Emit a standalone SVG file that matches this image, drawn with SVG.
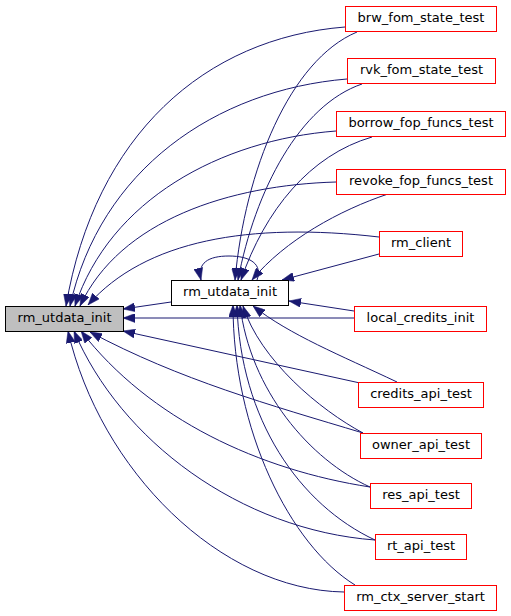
<svg xmlns="http://www.w3.org/2000/svg" width="511" height="616" viewBox="0 0 511 616">
<style>
.n rect{fill:#ffffff;stroke:#ff0000;stroke-width:1}
.n text{font-family:"DejaVu Sans","Liberation Sans",sans-serif;font-size:13px;fill:#000000;text-anchor:middle}
#n_root rect{fill:#bfbfbf;stroke:#000000}
#n_mid rect{stroke:#000000}
.e path{fill:none;stroke:#191970;stroke-width:1;marker-end:url(#ah)}
</style>
<defs>
<marker id="ah" markerUnits="userSpaceOnUse" markerWidth="12" markerHeight="9" refX="12" refY="4.5" orient="auto" viewBox="0 0 12 9">
<path d="M0,0 L12,4.5 L0,9 z" fill="#191970" stroke="#191970" stroke-width="0.5"/>
</marker>
</defs>
<rect width="511" height="616" fill="#ffffff"/>
<g id="connectors" class="e">
<path d="M345,27 C205,38 95,135 66,306"/>
<path d="M347,79 C215,90 100,170 70,306"/>
<path d="M336,131 C220,140 110,200 75,306"/>
<path d="M336,182 C230,185 120,220 80,306"/>
<path d="M379,237 C250,222 145,240 88,305"/>
<path d="M171,302 L123,309"/>
<path d="M354,318 L123,318"/>
<path d="M360,383 L123,331"/>
<path d="M344,592 C220,590 100,470 68,331"/>
<path d="M375,540 C240,530 120,440 74,331"/>
<path d="M370,487 C260,470 150,420 81,331"/>
<path d="M363,433 C270,405 180,380 90,332"/>
<path d="M357,32 C290,60 245,170 235,280"/>
<path d="M362,84 C300,105 255,190 238,280"/>
<path d="M372,137 C310,155 265,210 241,280"/>
<path d="M388,194 C340,210 285,240 252,280"/>
<path d="M379,254 L282,280"/>
<path d="M257,280 C263,264 250,256 229,256 C208,256 197,263 201,280"/>
<path d="M354,311 L289,301"/>
<path d="M397,382 C340,355 290,335 253,306"/>
<path d="M363,433 C320,410 260,360 243,306"/>
<path d="M370,487 C310,460 250,390 240,305"/>
<path d="M375,540 C300,505 240,420 237,305"/>
<path d="M355,585 C290,545 233,430 233,305"/>
</g>
<g id="n_root" class="n"><rect x="5.5" y="306.5" width="118" height="25"/><text x="64.5" y="322">rm_utdata_init</text></g>
<g id="n_mid" class="n"><rect x="171.5" y="280.5" width="117" height="25"/><text x="230" y="296">rm_utdata_init</text></g>
<g id="n_brw" class="n"><rect x="345.5" y="6.5" width="151" height="25"/><text x="421" y="22">brw_fom_state_test</text></g>
<g id="n_rvk" class="n"><rect x="347.5" y="58.5" width="148" height="25"/><text x="421.5" y="74">rvk_fom_state_test</text></g>
<g id="n_borrow" class="n"><rect x="336.5" y="111.5" width="169" height="25"/><text x="421" y="127">borrow_fop_funcs_test</text></g>
<g id="n_revoke" class="n"><rect x="336.5" y="169.5" width="169" height="25"/><text x="421" y="185">revoke_fop_funcs_test</text></g>
<g id="n_client" class="n"><rect x="379.5" y="231.5" width="83" height="25"/><text x="421" y="247">rm_client</text></g>
<g id="n_local" class="n"><rect x="354.5" y="306.5" width="132" height="25"/><text x="420.5" y="322">local_credits_init</text></g>
<g id="n_credits" class="n"><rect x="358.5" y="382.5" width="125" height="25"/><text x="421" y="398">credits_api_test</text></g>
<g id="n_owner" class="n"><rect x="360.5" y="433.5" width="121" height="25"/><text x="421" y="449">owner_api_test</text></g>
<g id="n_res" class="n"><rect x="370.5" y="483.5" width="101" height="25"/><text x="421" y="499">res_api_test</text></g>
<g id="n_rt" class="n"><rect x="375.5" y="534.5" width="91" height="25"/><text x="421" y="550">rt_api_test</text></g>
<g id="n_ctx" class="n"><rect x="344.5" y="585.5" width="152" height="25"/><text x="420.5" y="601">rm_ctx_server_start</text></g>
</svg>
